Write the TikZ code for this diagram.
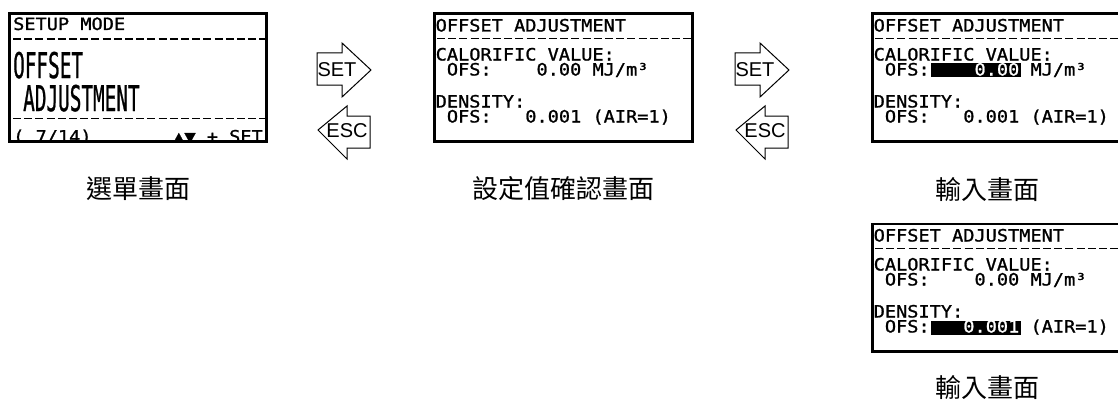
\documentclass[tikz,border=0pt]{standalone}
\usepackage{fontspec}
\usepackage{graphicx}
\newfontfamily\lcd[FakeStretch=1.094,FakeBold=1.2]{DejaVu Sans Mono}
\newfontfamily\cjk{Noto Sans CJK TC}
\newfontfamily\keyfont{Liberation Sans}
\tikzset{
  scr/.style={draw=black, line width=2.6pt},
  lcdtxt/.style={inner sep=0pt, anchor=base west, font=\lcd\fontsize{17}{17}\selectfont},
  dashln/.style={line width=1.8pt, dash pattern=on 8pt off 3.2pt},
  caption/.style={font=\cjk\fontsize{26}{26}\selectfont, inner sep=0pt},
  keyarrow/.style={draw=black, line width=1pt, fill=white, line join=miter},
  keytxt/.style={font=\keyfont\fontsize{20}{20}\selectfont, inner sep=0pt},
  hlbox/.style={fill=black, draw=none},
}
\begin{document}
\begin{tikzpicture}[x=1pt, y=-1pt]
\useasboundingbox (0,0) rectangle (1118,412);
\clip (0,0) rectangle (1118,412);

% ---------- screen 1 : menu ----------
\begin{scope}
  \clip (8,12.5) rectangle (268,142.5);
  \node[lcdtxt] (s1title) at (13,30) {SETUP MODE};
  \draw[dashln] (13,39) -- (268,39);
  \node[lcdtxt] (s1big1) at (13,78) {\scalebox{1.04}[2.08]{OFFSET}};
  \node[lcdtxt] (s1big2) at (23,111) {\scalebox{1.04}[2.08]{ADJUSTMENT}};
  \draw[dashln] (13,118.5) -- (268,118.5);
  \node[lcdtxt] (s1page) at (13,142.5) {( 7/14)};
  \node[lcdtxt, anchor=base east] (s1keys) at (263,142.5) {▲▼ + SET};
\end{scope}
\draw[scr] (9.3,13.8) rectangle (266.7,141.2);

% ---------- key arrows 1 ----------
\draw[keyarrow] (317,53) -- (342,53) -- (342,43) -- (371,70) -- (342,97) -- (342,85) -- (317,85) -- cycle;
\node[keytxt] (set1) at (337,69.5) {SET};
\draw[keyarrow] (370,116) -- (347,116) -- (347,106) -- (318,130) -- (347,159) -- (347,148) -- (370,148) -- cycle;
\node[keytxt] (esc1) at (347,130.5) {ESC};

% ---------- screen 2 : confirm ----------
\begin{scope}
  \clip (433,12.5) rectangle (694,142.5);
  \node[lcdtxt] (s2title) at (435.5,31.5) {OFFSET ADJUSTMENT};
  \draw[dashln] (437,38.5) -- (694,38.5);
  \node[lcdtxt] (s2cal) at (435.5,60.5) {CALORIFIC VALUE:};
  \node[lcdtxt] (s2ofs1) at ({435.5+1*11.2},75.5) {OFS:};
  \node[lcdtxt] (s2val1) at ({435.5+9*11.2},75.5) {0.00};
  \node[lcdtxt] (s2unit1) at ({435.5+14*11.2},75.5) {MJ/m³};
  \node[lcdtxt] (s2den) at (435.5,107.5) {DENSITY:};
  \node[lcdtxt] (s2ofs2) at ({435.5+1*11.2},122.5) {OFS:};
  \node[lcdtxt] (s2val2) at ({435.5+8*11.2},122.5) {0.001};
  \node[lcdtxt] (s2unit2) at ({435.5+14*11.2},122.5) {(AIR=1)};
\end{scope}
\draw[scr] (434.3,13.8) rectangle (692.7,141.2);

% ---------- key arrows 2 ----------
\draw[keyarrow] (735,53) -- (760,53) -- (760,43) -- (789,70) -- (760,97) -- (760,85) -- (735,85) -- cycle;
\node[keytxt] (set2) at (755,69.5) {SET};
\draw[keyarrow] (788,116) -- (765,116) -- (765,106) -- (736,130) -- (765,159) -- (765,148) -- (788,148) -- cycle;
\node[keytxt] (esc2) at (765,130.5) {ESC};

% ---------- screen 3 : input calorific ----------
\begin{scope}
  \clip (871,12.5) rectangle (1132,142.5);
  \node[lcdtxt] (s3title) at (873.5,31.5) {OFFSET ADJUSTMENT};
  \draw[dashln] (875,38.5) -- (1132,38.5);
  \node[lcdtxt] (s3cal) at (873.5,60.5) {CALORIFIC VALUE:};
  \node[lcdtxt] (s3ofs1) at ({873.5+1*11.2},75.5) {OFS:};
  \fill[hlbox] (931,63.5) rectangle (1020.5,77);
  \node[lcdtxt, text=white] (s3val1) at ({873.5+9*11.2},75.5) {0.00};
  \node[lcdtxt] (s3unit1) at ({873.5+14*11.2},75.5) {MJ/m³};
  \node[lcdtxt] (s3den) at (873.5,107.5) {DENSITY:};
  \node[lcdtxt] (s3ofs2) at ({873.5+1*11.2},122.5) {OFS:};
  \node[lcdtxt] (s3val2) at ({873.5+8*11.2},122.5) {0.001};
  \node[lcdtxt] (s3unit2) at ({873.5+14*11.2},122.5) {(AIR=1)};
\end{scope}
\draw[scr] (872.3,13.8) rectangle (1130.7,141.2);

% ---------- screen 4 : input density ----------
\begin{scope}
  \clip (871,222.5) rectangle (1132,352.5);
  \node[lcdtxt] (s4title) at (873.5,241.5) {OFFSET ADJUSTMENT};
  \draw[dashln] (875,248.5) -- (1132,248.5);
  \node[lcdtxt] (s4cal) at (873.5,270.5) {CALORIFIC VALUE:};
  \node[lcdtxt] (s4ofs1) at ({873.5+1*11.2},285.5) {OFS:};
  \node[lcdtxt] (s4val1) at ({873.5+9*11.2},285.5) {0.00};
  \node[lcdtxt] (s4unit1) at ({873.5+14*11.2},285.5) {MJ/m³};
  \node[lcdtxt] (s4den) at (873.5,317.5) {DENSITY:};
  \node[lcdtxt] (s4ofs2) at ({873.5+1*11.2},332.5) {OFS:};
  \fill[hlbox] (931,321) rectangle (1020.5,335);
  \node[lcdtxt, text=white] (s4val2) at ({873.5+8*11.2},332.5) {0.001};
  \node[lcdtxt] (s4unit2) at ({873.5+14*11.2},332.5) {(AIR=1)};
\end{scope}
\draw[scr] (872.3,223.8) rectangle (1130.7,351.2);

% ---------- captions ----------
\node[caption] (cap1) at (138,189) {選單畫面};
\node[caption] (cap2) at (563,189) {設定值確認畫面};
\node[caption] (cap3) at (987,190) {輸入畫面};
\node[caption] (cap4) at (987,388) {輸入畫面};
\end{tikzpicture}
\end{document}
